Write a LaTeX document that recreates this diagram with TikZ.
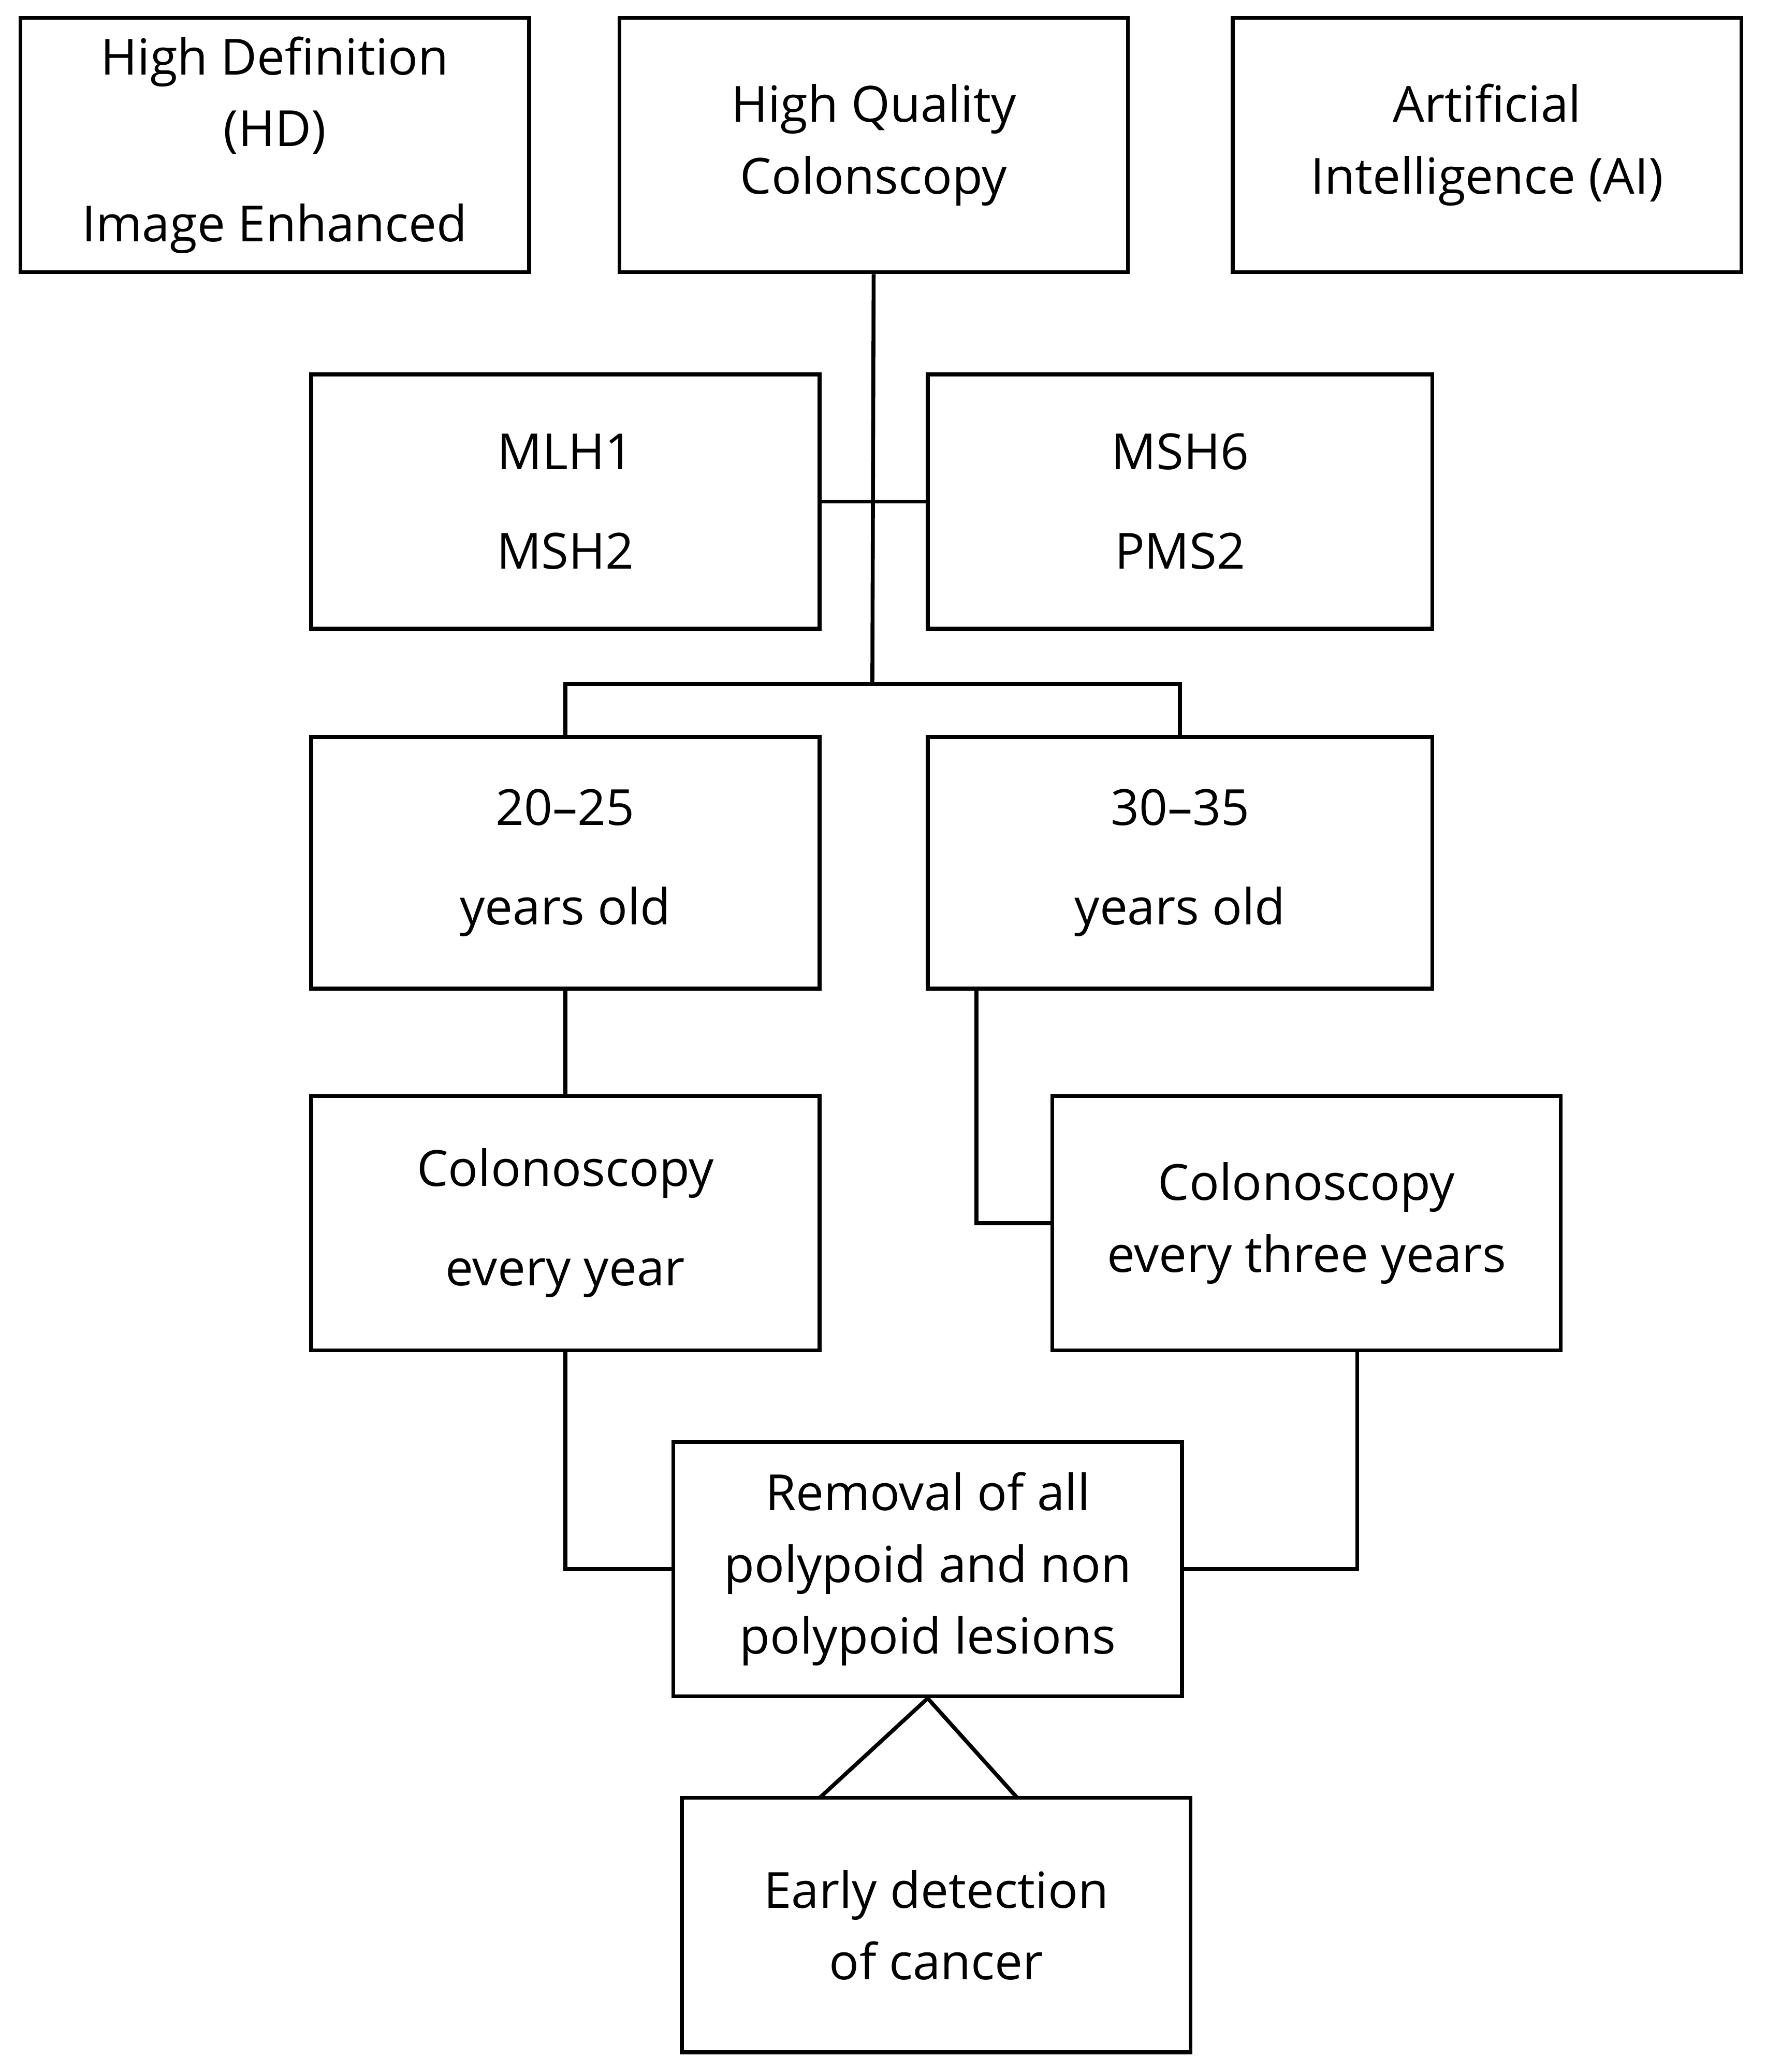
\documentclass[tikz,border=0pt]{standalone}
\usepackage{fontspec}
\setmainfont{Open Sans}
\begin{document}
\begin{tikzpicture}[x=0.02cm,y=-0.02cm,
 box/.style={draw,line width=1.7pt,minimum width=7.72cm,minimum height=3.86cm,align=center,inner sep=0pt,font=\fontsize{21.5}{31}\selectfont},
 ln/.style={line width=1.7pt}]
\useasboundingbox (0,0) rectangle (1340,1572);
\node[box] (hd) at (208.5,110) {High Definition\\(HD)\\[0.35cm]Image Enhanced};
\node[box] (hq) at (663,110) {High Quality\\Colonscopy};
\node[box] (ai) at (1128.5,110) {Artificial\\Intelligence (AI)};
\node[box] (mlh) at (429,380.5) {MLH1\\[0.42cm]MSH2};
\node[box,minimum width=7.66cm] (msh) at (895.5,380.5) {MSH6\\[0.42cm]PMS2};
\node[box,minimum height=3.82cm] (a) at (429,654.5) {20–25\\[0.42cm]years old};
\node[box,minimum width=7.66cm,minimum height=3.82cm] (b) at (895.5,654.5) {30–35\\[0.42cm]years old};
\node[box] (cy) at (429,928) {Colonoscopy\\[0.42cm]every year};
\node[box] (ct) at (991.5,928) {Colonoscopy\\every three years};
\node[box] (r) at (704,1190.5) {Removal of all\\polypoid and non\\polypoid lesions};
\node[box] (e) at (710.5,1460.5) {Early detection\\of cancer};
\coordinate (j) at (662,519);
\draw[ln] (hq.south) -- (j);
\draw[ln] (mlh.east) -- (msh.west);
\draw[ln] (a.north) |- (j) -| (b.north);
\draw[ln] (a.south) -- (cy.north);
\draw[ln] (741,750) |- (ct.west);
\draw[ln] (cy.south) |- (r.west);
\draw[ln] (1030,1025) |- (r.east);
\draw[ln] (622,1364) -- (r.south) -- (772,1364);
\end{tikzpicture}
\end{document}
